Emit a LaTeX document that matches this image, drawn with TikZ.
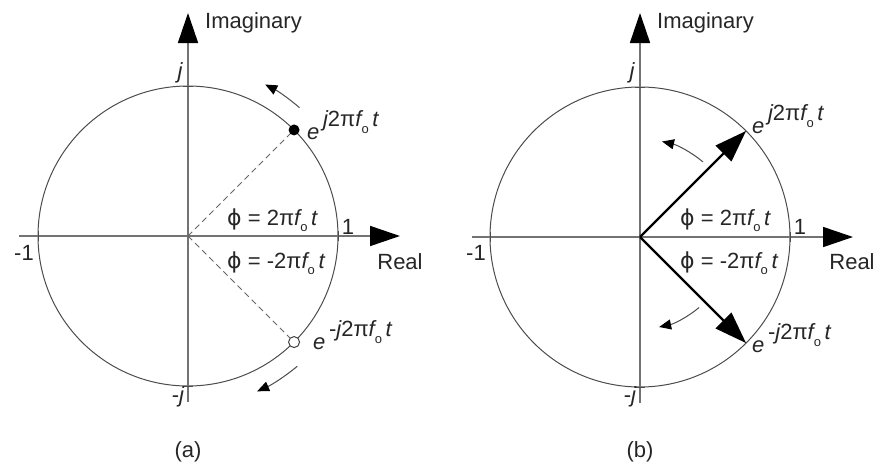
\documentclass[tikz,border=0pt]{standalone}
\usepackage{fontspec}
\setmainfont{Liberation Sans}
\newfontfamily\dejavu{DejaVu Sans}
\usetikzlibrary{arrows.meta}
\newcommand\sbo{\raisebox{-0.3em}{\fontsize{13}{13}\selectfont o}}
\newcommand\phis{{\dejavu ϕ}}
\newcommand\myexp[1]{{\itshape e}\,\raisebox{0.55em}{#1{\itshape j}2π{\itshape f}\sbo\,{\itshape t}}}
\newcommand\philbl[1]{\phis{} = #12π{\itshape f}\sbo\,{\itshape t}}
\tikzset{
  axis/.style={draw=black!55, line width=1.6pt, -{Triangle[length=30pt,width=20pt,color=black]}},
  circ/.style={draw=black!70, line width=1pt},
  lbl/.style={font=\fontsize{22}{24}\selectfont, text=black!85, inner sep=0pt},
  tickln/.style={draw=black!70, line width=1pt},
  dashln/.style={draw=black!60, line width=1pt, dash pattern=on 6pt off 4pt},
  vec/.style={draw=black, line width=2.4pt, -{Triangle[length=32pt,width=22pt]}},
  rot/.style={draw=black!70, line width=1pt, -{Triangle[length=12pt,width=10pt,color=black]}},
}
\begin{document}
\begin{tikzpicture}[x=1pt,y=1pt]
\useasboundingbox (0,-469) rectangle (876,0);
% ---------------- panel (a)
\begin{scope}[shift={(188,-236)}]
  \coordinate (aO) at (0,0);
  \coordinate (aL) at (-169,0);
  \coordinate (aR) at (212,0);
  \coordinate (aB) at (0,-166);
  \coordinate (aT) at (0,223);
  \draw[circ] (aO) circle[radius=150];
  \draw[axis] (aL) -- (aR);
  \draw[axis] (aB) -- (aT);
  \draw[tickln] (150,-5) -- (150,5);
  \draw[tickln] (-150,-5) -- (-150,5);
  \draw[tickln] (-5,150) -- (5,150);
  \draw[tickln] (-5,-150) -- (5,-150);
  \coordinate (aP) at (45:150);
  \coordinate (aN) at (-45:150);
  \draw[dashln] (aO) -- (aP);
  \draw[dashln] (aO) -- (aN);
  \node[circle, fill=black, minimum size=11pt, inner sep=0pt] (aDot) at (aP) {};
  \node[circle, draw=black!75, fill=white, line width=1pt, minimum size=11pt, inner sep=0pt] (aOpen) at (aN) {};
  \draw[rot] (49:170) arc[start angle=49, end angle=63, radius=170];
  \draw[rot] (-50:170) arc[start angle=-50, end angle=-66, radius=170];
  \node[lbl, anchor=west] (aIm) at (17,213) {Imaginary};
  \node[lbl] (aRe) at (212,-26) {Real};
  \node[lbl] (aj) at (-8,163) {\itshape j};
  \node[lbl] (amj) at (-10,-161) {-\itshape j};
  \node[lbl] (am1) at (-164,-17) {-1};
  \node[lbl] (a1) at (160,9) {1};
  \node[lbl, anchor=base west] (aphiu) at (39,11) {\philbl{}};
  \node[lbl, anchor=base west] (aphil) at (39,-32) {\philbl{-}};
  \node[lbl, anchor=base west] (aeu) at (119,97) {\myexp{}};
  \node[lbl, anchor=base west] (ael) at (125,-113) {\myexp{-}};
  \node[lbl] (acap) at (0,-216) {(a)};
\end{scope}
% ---------------- panel (b)
\begin{scope}[shift={(640,-237)}]
  \coordinate (bO) at (0,0);
  \coordinate (bL) at (-168,0);
  \coordinate (bR) at (213,0);
  \coordinate (bB) at (0,-166);
  \coordinate (bT) at (0,224);
  \draw[circ] (bO) circle[radius=150];
  \draw[axis] (bL) -- (bR);
  \draw[axis] (bB) -- (bT);
  \draw[tickln] (150,-5) -- (150,5);
  \draw[tickln] (-150,-5) -- (-150,5);
  \draw[tickln] (-5,150) -- (5,150);
  \draw[tickln] (-5,-150) -- (5,-150);
  \coordinate (bP) at (45:150);
  \coordinate (bN) at (-45:150);
  \draw[vec] (bO) -- (bP);
  \draw[vec] (bO) -- (bN);
  \draw[rot] (50:98) arc[start angle=50, end angle=77, radius=98];
  \draw[rot] (-50:92) arc[start angle=-50, end angle=-78, radius=92];
  \node[lbl, anchor=west] (bIm) at (17,214) {Imaginary};
  \node[lbl] (bRe) at (212,-25) {Real};
  \node[lbl] (bj) at (-8,164) {\itshape j};
  \node[lbl] (bmj) at (-10,-160) {-\itshape j};
  \node[lbl] (bm1) at (-164,-16) {-1};
  \node[lbl] (b1) at (160,10) {1};
  \node[lbl, anchor=base west] (bphiu) at (40,12) {\philbl{}};
  \node[lbl, anchor=base west] (bphil) at (40,-31) {\philbl{-}};
  \node[lbl, anchor=base west] (beu) at (112,104) {\myexp{}};
  \node[lbl, anchor=base west] (bel) at (112,-115) {\myexp{-}};
  \node[lbl] (bcap) at (0,-215) {(b)};
\end{scope}
\end{tikzpicture}
\end{document}
